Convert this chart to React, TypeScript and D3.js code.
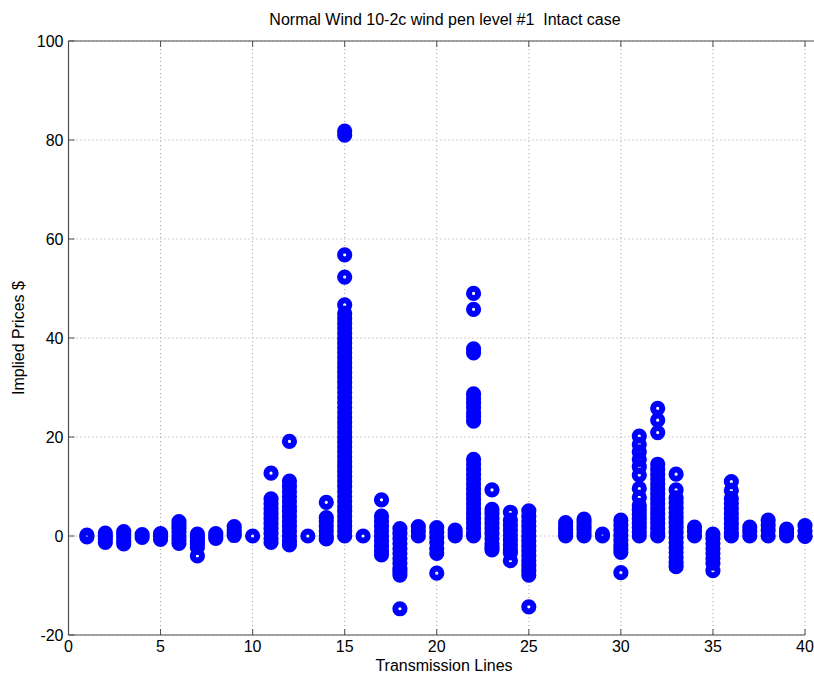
import React from "react";
import * as d3 from "d3";

const titleText = "Normal Wind 10-2c wind pen level #1  Intact case";
const xLabel = "Transmission Lines";
const yLabel = "Implied Prices $";
const xTicks = [0, 5, 10, 15, 20, 25, 30, 35, 40];
const yTicks = [-20, 0, 20, 40, 60, 80, 100];

const lineIds = [1, 2, 3, 4, 5, 6, 7, 8, 9, 10, 11, 12, 13, 14, 15, 16, 17, 18, 19, 20, 21, 22, 23, 24, 25, 27, 28, 29, 30, 31, 32, 33, 34, 35, 36, 37, 38, 39, 40];

const impliedPrices: number[][] = [
  [0.2, -0.2],
  [0.6, 0, -0.6, -1.3],
  [0.9, 0.3, -0.3, -1, -1.6],
  [0.3, -0.3],
  [0.5, 0, -0.7],
  [2.9, 2.2, 1.5, 0.8, 0, -0.8, -1.5],
  [0.4, -0.3, -1, -1.6, -2.3, -4],
  [0.5, 0, -0.5],
  [1.9, 1.2, 0.6, 0.1],
  [0],
  [12.7, 7.5, 6.5, 5.5, 4.5, 3.5, 2.5, 1.5, 0.5, -0.5, -1.3],
  [19.1, 11.1, 10, 9, 8, 7, 6, 5, 4, 3, 2, 1, 0, -1, -1.8],
  [0],
  [6.8, 3.7, 3, 2, 1, 0, -0.6],
  [81.8, 81, 56.8, 52.3, 46.7, 45, 44, 43, 42, 41, 40, 39, 38, 37, 36, 35, 34, 33, 32, 31, 30, 29, 28, 27, 26, 25, 24, 23, 22, 21, 20, 19, 18, 17, 16, 15, 14, 13, 12, 11, 10, 9, 8, 7, 6, 5, 4, 3, 2, 1, 0],
  [0],
  [7.3, 4, 3, 2, 1, 0, -1, -2, -3, -3.8],
  [1.5, 0.5, -0.5, -1.5, -2.5, -3.5, -4.5, -5.5, -6.5, -7.2, -7.9, -14.7],
  [1.9, 1, 0],
  [1.7, 0.7, -0.3, -1.3, -2.5, -3.5, -7.5],
  [1.2, 0.6, 0],
  [49, 45.8, 37.8, 37, 28.7, 27.8, 26.9, 26, 25, 24.1, 23.2, 15.5, 14.5, 13.5, 12.5, 11.5, 10.5, 9.5, 8.5, 7.5, 6.5, 5.5, 4.5, 3.5, 2.5, 1.5, 0.5, 0],
  [9.3, 5.4, 4.5, 3.5, 2.5, 1.5, 0.5, -0.5, -1.5, -2.2, -2.8],
  [4.8, 3.2, 2.2, 1.2, 0.2, -0.8, -1.8, -2.8, -3.4, -5],
  [5.1, 4, 3, 2, 1, 0, -1, -2, -3, -4, -5, -6, -7, -7.9, -14.3],
  [2.7, 2, 1.3, 0.6, 0],
  [3.4, 2.7, 2, 1.3, 0.6, 0],
  [0.4, 0],
  [3.2, 2.2, 1.2, 0.2, -0.8, -1.8, -2.6, -3.3, -7.4],
  [20.2, 18.5, 17, 15.5, 14, 12.3, 9.6, 7.8, 6.2, 5.3, 4.4, 3.5, 2.6, 1.7, 0.8, 0],
  [25.8, 23.4, 20.9, 14.5, 13.5, 12.5, 11.5, 10.5, 9.5, 8.5, 7.5, 6.5, 5.5, 4.5, 3.5, 2.5, 1.5, 0.5, 0],
  [12.5, 9.3, 7.7, 6.7, 5.7, 4.7, 3.7, 2.7, 1.7, 0.7, -0.3, -1.3, -2.3, -3.3, -4.3, -5.3, -6.2],
  [1.8, 0.9, 0],
  [0.4, -0.5, -1.5, -2.5, -3.5, -4.5, -5.5, -7],
  [11, 9.2, 7.6, 6.6, 5.6, 4.6, 3.6, 2.6, 1.6, 0.6, 0],
  [1.8, 0.9, 0],
  [3.2, 2.2, 1.2, 0],
  [1.4, 0.7, 0],
  [2.1, 1, 0, -0.1],
];

const W = 814;
const H = 679;
const left = 68.5;
const right = 805;
const top = 41;
const bottom = 635;

export default function App() {
  const x = d3.scaleLinear().domain([0, 40]).range([left, right]);
  const y = d3.scaleLinear().domain([-20, 100]).range([bottom, top]);
  const font = "Arial, 'Liberation Sans', Helvetica, sans-serif";
  const points: { id: string; cx: number; cy: number }[] = [];
  lineIds.forEach((line, i) => {
    impliedPrices[i].forEach((v, j) => {
      points.push({ id: `${line}-${j}`, cx: x(line), cy: y(v) });
    });
  });
  const axisColor = "#4d4d4d";
  return (
    <svg
      width={W}
      height={H}
      style={{ position: "absolute", left: 0, top: 0, background: "#fff" }}
      fontFamily={font}
    >
      <rect x={0} y={0} width={W} height={H} fill="#fff" />
      {xTicks.map((t) => (
        <line key={`gx${t}`} x1={x(t)} x2={x(t)} y1={top} y2={bottom} stroke="#a0a0a0" strokeWidth={1} strokeDasharray="1,3" />
      ))}
      {yTicks.map((t) => (
        <line key={`gy${t}`} x1={left} x2={right} y1={y(t)} y2={y(t)} stroke="#a0a0a0" strokeWidth={1} strokeDasharray="1,3" />
      ))}
      <line x1={left} x2={W} y1={top} y2={top} stroke={axisColor} strokeWidth={1.2} />
      <line x1={left} x2={left} y1={top} y2={bottom} stroke={axisColor} strokeWidth={1.2} />
      <line x1={left} x2={right} y1={bottom} y2={bottom} stroke={axisColor} strokeWidth={1.2} />
      {xTicks.map((t) => (
        <g key={`tx${t}`}>
          <line x1={x(t)} x2={x(t)} y1={bottom} y2={bottom - 6} stroke={axisColor} />
          <line x1={x(t)} x2={x(t)} y1={top} y2={top + 6} stroke={axisColor} />
          <text x={x(t)} y={bottom + 17} textAnchor="middle" fontSize={16} fill="#000">
            {t}
          </text>
        </g>
      ))}
      {yTicks.map((t) => (
        <g key={`ty${t}`}>
          <line x1={left} x2={left + 6} y1={y(t)} y2={y(t)} stroke={axisColor} />
          <text x={left - 5} y={y(t) + 5.5} textAnchor="end" fontSize={16} fill="#000">
            {t}
          </text>
        </g>
      ))}
      {points.map((p) => (
        <circle key={p.id} cx={p.cx} cy={p.cy} r={4.6} fill="none" stroke="#0000ff" strokeWidth={6} />
      ))}
      <text x={445} y={25} textAnchor="middle" fontSize={16} fill="#000" style={{ whiteSpace: "pre" }}>
        {titleText}
      </text>
      <text x={444} y={671} textAnchor="middle" fontSize={16} fill="#000">
        {xLabel}
      </text>
      <text transform={`translate(24, 338) rotate(-90)`} textAnchor="middle" fontSize={16} fill="#000">
        {yLabel}
      </text>
    </svg>
  );
}
